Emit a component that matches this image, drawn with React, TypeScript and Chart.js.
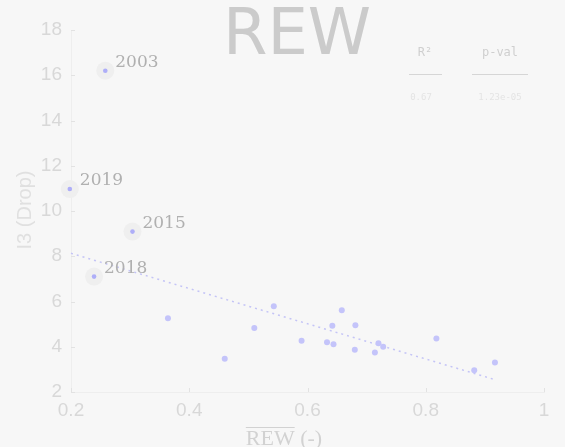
import React, { useEffect, useRef } from 'react';
import { Chart, registerables } from 'chart.js';
Chart.register(...registerables);

const labelYears = ['2003', '2019', '2015', '2018'];
const labeledX = [0.258, 0.198, 0.304, 0.239];
const labeledY = [16.2, 10.97, 9.09, 7.1];
const otherX = [0.364, 0.46, 0.51, 0.543, 0.59, 0.633, 0.642, 0.644, 0.658, 0.68, 0.681, 0.714, 0.72, 0.728, 0.818, 0.882, 0.917];
const otherY = [5.26, 3.47, 4.83, 5.79, 4.27, 4.2, 4.93, 4.11, 5.61, 3.87, 4.95, 3.75, 4.15, 4.0, 4.36, 2.96, 3.3];
const trendX = [0.2, 0.918];
const trendY = [8.13, 2.54];
const xTicks = [0.2, 0.4, 0.6, 0.8, 1];
const yTicks = [2, 4, 6, 8, 10, 12, 14, 16, 18];
const tableHeaders = ['R\u00B2', 'p-val'];
const tableValues = ['0.67', '1.23e-05'];

const W = 565;
const H = 447;

export default function App() {
  const ref = useRef<HTMLCanvasElement | null>(null);
  useEffect(() => {
    document.body.style.margin = '0';
    document.body.style.background = '#f7f7f7';
    const canvas = ref.current!;
    const bgPlugin = {
      id: 'bg',
      beforeDraw(chart: any) {
        const c = chart.ctx;
        c.save();
        c.fillStyle = '#f7f7f7';
        c.fillRect(0, 0, chart.width, chart.height);
        c.restore();
      },
    };
    const overlay = {
      id: 'overlay',
      afterDraw(chart: any) {
        const c = chart.ctx;
        const xs = chart.scales.x;
        const ys = chart.scales.y;
        c.save();
        // inward tick marks
        c.strokeStyle = '#e2e2e2';
        c.lineWidth = 1;
        xTicks.forEach((v) => {
          const px = Math.round(xs.getPixelForValue(v)) + 0.5;
          c.beginPath();
          c.moveTo(px, ys.bottom);
          c.lineTo(px, ys.bottom - 4);
          c.stroke();
        });
        yTicks.forEach((v) => {
          const py = Math.round(ys.getPixelForValue(v)) + 0.5;
          c.beginPath();
          c.moveTo(xs.left, py);
          c.lineTo(xs.left + 4, py);
          c.stroke();
        });
        // title
        c.fillStyle = '#cbcbcb';
        c.font = '64px "DejaVu Sans", sans-serif';
        c.textAlign = 'center';
        c.textBaseline = 'alphabetic';
        c.fillText('REW', 297, 54);
        // y axis title
        c.save();
        c.translate(25, 210);
        c.rotate(-Math.PI / 2);
        c.fillStyle = '#e0e0e0';
        c.font = '20px "Liberation Sans", sans-serif';
        c.textAlign = 'center';
        c.textBaseline = 'middle';
        c.fillText('I3 (Drop)', 0, 0);
        c.restore();
        // x axis title with overline
        c.fillStyle = '#d2d2d2';
        c.font = '22px "Liberation Serif", serif';
        c.textAlign = 'left';
        c.textBaseline = 'alphabetic';
        const rew = 'REW';
        const rw = c.measureText(rew).width;
        const full = c.measureText(rew + ' (-)').width;
        const sx = 284 - full / 2;
        c.fillText(rew + ' (-)', sx, 445);
        c.strokeStyle = '#d2d2d2';
        c.lineWidth = 1;
        c.beginPath();
        c.moveTo(sx, 427.5);
        c.lineTo(sx + rw, 427.5);
        c.stroke();
        // table
        c.font = '12px "DejaVu Sans Mono", monospace';
        c.fillStyle = '#cfcfcf';
        c.textAlign = 'center';
        c.textBaseline = 'middle';
        c.fillText(tableHeaders[0], 425, 53);
        c.fillText(tableHeaders[1], 500, 53);
        c.strokeStyle = '#d6d6d6';
        c.lineWidth = 1;
        c.beginPath();
        c.moveTo(409, 74.5);
        c.lineTo(442, 74.5);
        c.moveTo(472, 74.5);
        c.lineTo(528, 74.5);
        c.stroke();
        c.font = '9px "DejaVu Sans Mono", monospace';
        c.fillStyle = '#e4e4e4';
        c.fillText(tableValues[0], 421, 98);
        c.fillText(tableValues[1], 500, 98);
        // year labels
        const meta = chart.getDatasetMeta(0);
        c.font = '17px "DejaVu Serif", serif';
        c.fillStyle = '#b0b0b0';
        c.textAlign = 'left';
        c.textBaseline = 'middle';
        meta.data.forEach((el: any, i: number) => {
          c.fillText(labelYears[i], el.x + 10, el.y - 8);
        });
        c.restore();
      },
    };
    const chart = new Chart(canvas, {
      type: 'scatter',
      data: {
        datasets: [
          {
            label: 'halo',
            data: labeledX.map((x, i) => ({ x, y: labeledY[i] })),
            pointRadius: 9,
            pointBackgroundColor: '#efefef',
            pointBorderWidth: 0,
            order: 3,
            clip: false,
          } as any,
          {
            label: 'labeled',
            data: labeledX.map((x, i) => ({ x, y: labeledY[i] })),
            pointRadius: 2.3,
            pointBackgroundColor: '#aeaef8',
            pointBorderWidth: 0,
            order: 1,
            clip: false,
          },
          {
            label: 'points',
            data: otherX.map((x, i) => ({ x, y: otherY[i] })),
            pointRadius: 3,
            pointBackgroundColor: '#c4c4fa',
            pointBorderWidth: 0,
            order: 1,
            clip: false,
          },
          {
            type: 'line',
            label: 'trend',
            data: trendX.map((x, i) => ({ x, y: trendY[i] })),
            borderColor: '#c4c4f6',
            borderWidth: 1.5,
            borderDash: [2, 4],
            pointRadius: 0,
            fill: false,
            order: 2,
            clip: false,
          } as any,
        ],
      },
      options: {
        animation: false,
        responsive: false,
        layout: { padding: { top: 30, right: 21, left: 0, bottom: 0 } },
        plugins: { legend: { display: false }, tooltip: { enabled: false }, title: { display: false } },
        scales: {
          x: {
            type: 'linear',
            min: 0.2,
            max: 1,
            afterBuildTicks: (s: any) => {
              s.ticks = xTicks.map((v) => ({ value: v }));
            },
            afterFit: (s: any) => {
              s.height = 55;
            },
            grid: { display: false, drawTicks: false },
            border: { display: true, color: '#eeeeee', width: 1 },
            ticks: {
              color: '#d8d8d8',
              font: { family: '"Liberation Sans", sans-serif', size: 19 },
              padding: 7,
              maxRotation: 0,
              autoSkip: false,
              callback: (v: any) => String(Math.round(Number(v) * 10) / 10),
            },
          },
          y: {
            type: 'linear',
            min: 2,
            max: 18,
            afterBuildTicks: (s: any) => {
              s.ticks = yTicks.map((v) => ({ value: v }));
            },
            afterFit: (s: any) => {
              s.width = 71;
            },
            grid: { display: false, drawTicks: false },
            border: { display: true, color: '#eeeeee', width: 1 },
            ticks: {
              color: '#d8d8d8',
              font: { family: '"Liberation Sans", sans-serif', size: 19 },
              padding: 9,
              autoSkip: false,
              callback: (v: any) => String(v),
            },
          },
        },
      },
      plugins: [bgPlugin, overlay],
    } as any);
    return () => chart.destroy();
  }, []);
  return (
    <div style={{ width: W, height: H, background: '#f7f7f7' }}>
      <canvas ref={ref} width={W} height={H} style={{ display: 'block', width: W, height: H }} />
    </div>
  );
}
